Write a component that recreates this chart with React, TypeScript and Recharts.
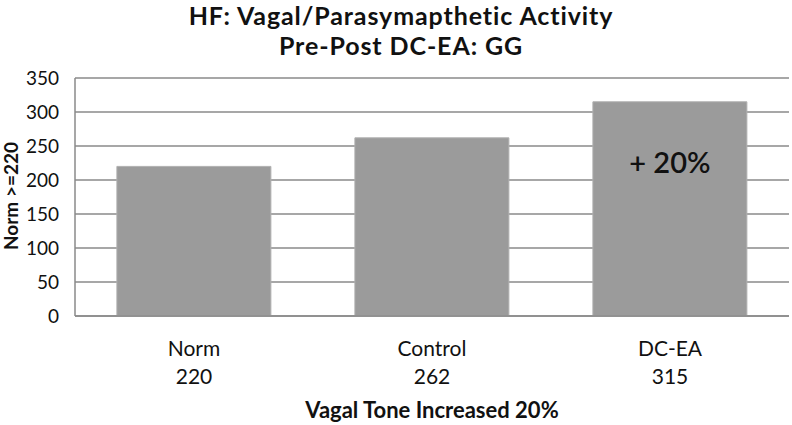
import React from 'react'
import { BarChart, Bar, XAxis, YAxis, CartesianGrid, LabelList } from 'recharts'

// categories, values and the note printed on top of a bar
const categories = ['Norm', 'Control', 'DC-EA']
const values = [220, 262, 315]
const notes = ['', '', '+ 20%']
const yTicks = [0, 50, 100, 150, 200, 250, 300, 350]

const data = categories.map((name, i) => ({ name, value: values[i], note: notes[i] }))

const FONT = 'Lato, "Open Sans", sans-serif'

function CategoryTick(props: any) {
  const { x, y, payload, index } = props
  return (
    <g>
      <text x={x} y={y + 32} textAnchor="middle" fontSize={21} fill="#111" fontFamily={FONT}>
        {payload.value}
      </text>
      <text x={x} y={y + 60} textAnchor="middle" fontSize={21} fill="#111" fontFamily={FONT}>
        {values[index]}
      </text>
    </g>
  )
}

function NoteLabel(props: any) {
  const { x, y, width, value } = props
  if (!value) return null
  return (
    <text x={x + width / 2} y={y + 71} textAnchor="middle" fontSize={29} fontWeight={600} fill="#111" fontFamily={FONT}>
      {value}
    </text>
  )
}

function YTitle() {
  return (
    <text
      x={18}
      y={196}
      transform="rotate(-90 18 196)"
      textAnchor="middle"
      fontSize={19}
      fontWeight={700}
      fill="#111"
      fontFamily={FONT}
    >
      Norm &gt;=220
    </text>
  )
}

function XTitle(props: any) {
  const { viewBox } = props
  const cx = viewBox.x + viewBox.width / 2
  return (
    <text x={cx} y={418} textAnchor="middle" fontSize={22} fontWeight={700} fill="#111" fontFamily={FONT}>
      Vagal Tone Increased 20%
    </text>
  )
}

export default function App() {
  return (
    <div style={{ position: 'absolute', left: 0, top: 0, width: 792, height: 425, background: '#fff', fontFamily: FONT }}>
      <div
        style={{
          position: 'absolute',
          left: 5,
          top: 0,
          width: 792,
          textAlign: 'center',
          fontSize: 25,
          letterSpacing: 0.9,
          fontWeight: 700,
          color: '#111',
          lineHeight: '30px',
        }}
      >
        HF: Vagal/Parasymapthetic Activity
        <br />
        Pre-Post DC-EA: GG
      </div>
      <BarChart
        width={792}
        height={425}
        data={data}
        margin={{ top: 78, right: 3, bottom: 79, left: 0 }}
        barCategoryGap="17.6%"
      >
        <CartesianGrid vertical={false} stroke="#8a8a8a" strokeWidth={1.5} />
        <XAxis
          dataKey="name"
          axisLine={{ stroke: '#8a8a8a', strokeWidth: 1.5 }}
          tickLine={false}
          tick={<CategoryTick />}
          interval={0}
          label={<XTitle />}
        />
        <YAxis
          width={75}
          domain={[0, 350]}
          ticks={yTicks}
          axisLine={{ stroke: '#8a8a8a', strokeWidth: 1.5 }}
          tickLine={false}
          tickMargin={10}
          tick={{ fontSize: 19, fill: '#111', fontFamily: FONT }}
          label={<YTitle />}
        />
        <Bar dataKey="value" fill="#9b9b9b" stroke="#b0b0b0" strokeWidth={1} isAnimationActive={false}>
          <LabelList dataKey="note" content={<NoteLabel />} />
        </Bar>
      </BarChart>
    </div>
  )
}
